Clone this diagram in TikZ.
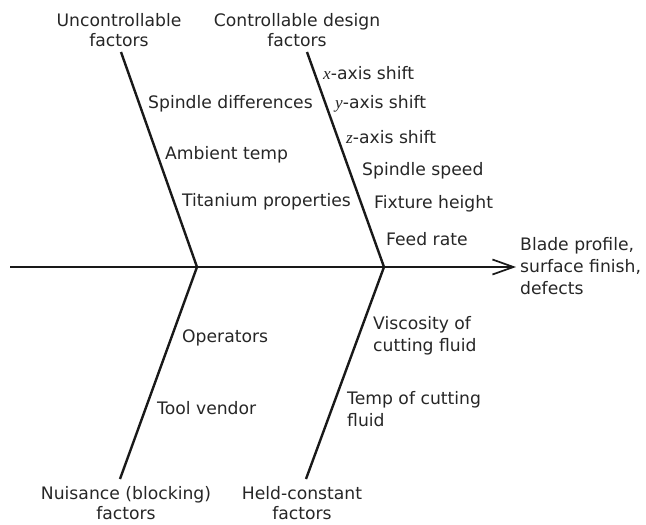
\documentclass[tikz,border=0pt]{standalone}
\usepackage{fontspec}
\setmainfont{DejaVu Sans}
\newfontfamily\serifit{Liberation Serif}
\usetikzlibrary{arrows.meta}
\begin{document}
\begin{tikzpicture}[x=1pt,y=-1pt,
  lbl/.style={font=\fontsize{17.2}{20}\selectfont, inner sep=0pt, anchor=west, text=black!85},
  lbl2/.style={lbl, align=left, font=\fontsize{17.2}{22}\selectfont},
  head/.style={font=\fontsize{17.2}{20}\selectfont, inner sep=0pt, align=center, text=black!85},
  bone/.style={line width=2.4pt, black!90},
  spine/.style={line width=2.7pt, black!90, -{Straight Barb[length=21pt,width=15pt,line width=1.7pt]}}
]
\useasboundingbox (0,0) rectangle (646,525);
% coordinates of the skeleton
\coordinate (tail) at (10,267);
\coordinate (tip) at (516,267);
\coordinate (j1) at (197,267);
\coordinate (j2) at (384,267);
\coordinate (ul) at (121,52);
\coordinate (ur) at (307,52);
\coordinate (ll) at (120,479);
\coordinate (lr) at (306,479);
% skeleton
\draw[spine] (tail) -- (tip);
\draw[bone] (ul) -- (j1) -- (ll);
\draw[bone] (ur) -- (j2) -- (lr);
% category headings
\node[head] (hu) at (119,30) {Uncontrollable\\factors};
\node[head] (hc) at (297,30) {Controllable design\\factors};
\node[head] (hn) at (126,503) {Nuisance (blocking)\\factors};
\node[head] (hh) at (302,503) {Held-constant\\factors};
% effect
\node[lbl2] (eff) at (520,266) {Blade profile,\\surface finish,\\defects};
% uncontrollable
\node[lbl] (sd) at (148,104) {Spindle differences};
\node[lbl] (at) at (165,155) {Ambient temp};
\node[lbl] (tp) at (182,202) {Titanium properties};
% controllable
\node[lbl] (xs) at (323,73) {{\serifit\itshape x}-axis shift};
\node[lbl] (ys) at (335,104) {{\serifit\itshape y}-axis shift};
\node[lbl] (zs) at (346,137) {{\serifit\itshape z}-axis shift};
\node[lbl] (ss) at (362,171) {Spindle speed};
\node[lbl] (fh) at (374,204) {Fixture height};
\node[lbl] (fr) at (386,239) {Feed rate};
% nuisance
\node[lbl] (op) at (182,338) {Operators};
\node[lbl] (tv) at (157,408) {Tool vendor};
% held constant
\node[lbl2] (vc) at (373,336) {Viscosity of\\cutting fluid};
\node[lbl2] (tc) at (347,409) {Temp of cutting\\fluid};
\end{tikzpicture}
\end{document}
